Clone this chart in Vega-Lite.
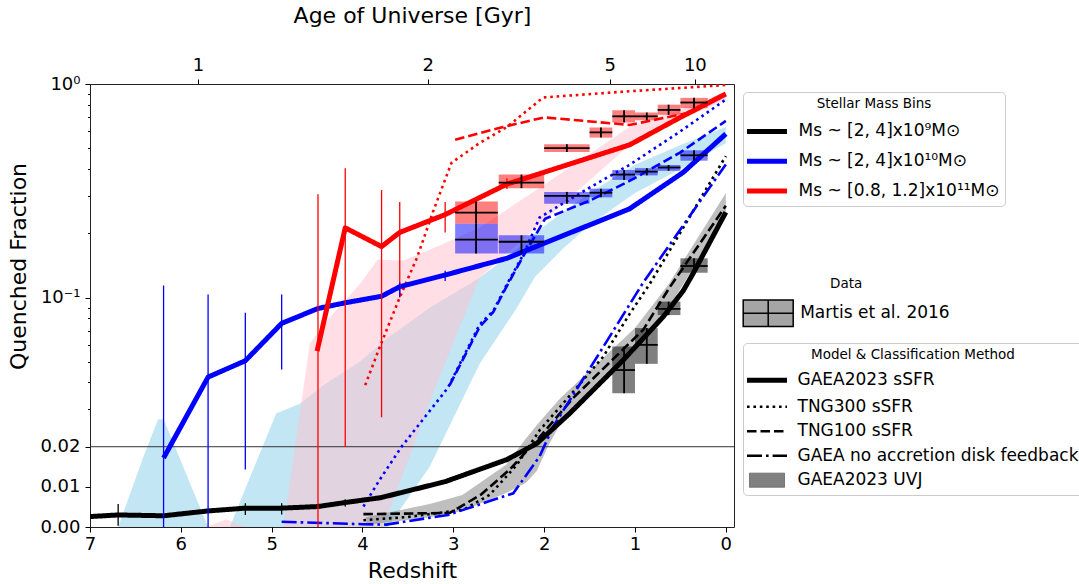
{
  "$schema": "https://vega.github.io/schema/vega-lite/v6.json",
  "width": 644,
  "height": 443,
  "autosize": {"type": "none"},
  "padding": {"left": 90, "top": 84, "right": 345, "bottom": 57},
  "background": "white",
  "config": {
    "font": "DejaVu Sans",
    "view": {"stroke": "#222222", "strokeWidth": 1},
    "axis": {"grid": false, "domain": false, "tickColor": "#000000", "tickWidth": 1, "tickSize": 5, "labelColor": "#000000", "titleColor": "#000000", "labelFontSize": 18, "titleFontSize": 22, "titleFontWeight": "normal", "labelFlush": false, "labelOverlap": false},
    "legend": {"labelColor": "#000000", "titleColor": "#000000", "titleFontWeight": "normal", "labelFontSize": 17, "titleFontSize": 13.5, "labelLimit": 500, "titleLimit": 500}
  },
  "datasets": {
    "bands": [
      {"band": "c", "z": 6.69, "lo": 0, "hi": 0}, {"band": "c", "z": 6.41, "lo": 0, "hi": 0.0176}, {"band": "c", "z": 6.25, "lo": 0, "hi": 0.027}, {"band": "c", "z": 6.19, "lo": 0, "hi": 0.027}, {"band": "c", "z": 5.70, "lo": 0, "hi": 0}, {"band": "c", "z": 5.46, "lo": 0, "hi": 0}, {"band": "c", "z": 5.28, "lo": 0, "hi": 0.0101}, {"band": "c", "z": 4.95, "lo": 0, "hi": 0.0287}, {"band": "c", "z": 4.69, "lo": 0, "hi": 0.032}, {"band": "c", "z": 4.43, "lo": 0, "hi": 0.039}, {"band": "c", "z": 4.03, "lo": 0, "hi": 0.05}, {"band": "c", "z": 3.72, "lo": 0, "hi": 0.065}, {"band": "c", "z": 3.26, "lo": 0.015, "hi": 0.09}, {"band": "c", "z": 2.71, "lo": 0.049, "hi": 0.124}, {"band": "c", "z": 2.3, "lo": 0.09, "hi": 0.17}, {"band": "c", "z": 2.1, "lo": 0.125, "hi": 0.2}, {"band": "c", "z": 1.8, "lo": 0.17, "hi": 0.25}, {"band": "c", "z": 1.5, "lo": 0.22, "hi": 0.31}, {"band": "c", "z": 1.0, "lo": 0.31, "hi": 0.42}, {"band": "c", "z": 0.5, "lo": 0.4, "hi": 0.52}, {"band": "c", "z": 0.0, "lo": 0.53, "hi": 0.63},
      {"band": "p", "z": 5.72, "lo": 0, "hi": 0}, {"band": "p", "z": 5.50, "lo": 0, "hi": 0.0019}, {"band": "p", "z": 5.29, "lo": 0, "hi": 0}, {"band": "p", "z": 4.87, "lo": 0, "hi": 0}, {"band": "p", "z": 4.58, "lo": 0, "hi": 0.061}, {"band": "p", "z": 4.36, "lo": 0, "hi": 0.081}, {"band": "p", "z": 4.03, "lo": 0, "hi": 0.116}, {"band": "p", "z": 3.83, "lo": 0, "hi": 0.151}, {"band": "p", "z": 3.77, "lo": 0, "hi": 0.15}, {"band": "p", "z": 3.55, "lo": 0.0135, "hi": 0.149}, {"band": "p", "z": 3.19, "lo": 0.039, "hi": 0.174}, {"band": "p", "z": 2.71, "lo": 0.124, "hi": 0.213}, {"band": "p", "z": 2.05, "lo": 0.221, "hi": 0.33}, {"band": "p", "z": 1.06, "lo": 0.52, "hi": 0.63}, {"band": "p", "z": 0.5, "lo": 0.68, "hi": 0.76}, {"band": "p", "z": 0.0, "lo": 0.85, "hi": 0.93},
      {"band": "g", "z": 3.96, "lo": 0.0005, "hi": 0.0025}, {"band": "g", "z": 3.26, "lo": 0.0024, "hi": 0.0057}, {"band": "g", "z": 2.9, "lo": 0.004, "hi": 0.008}, {"band": "g", "z": 2.42, "lo": 0.0085, "hi": 0.0155}, {"band": "g", "z": 2.2, "lo": 0.011, "hi": 0.022}, {"band": "g", "z": 2.08, "lo": 0.014, "hi": 0.0253}, {"band": "g", "z": 1.96, "lo": 0.02, "hi": 0.029}, {"band": "g", "z": 1.82, "lo": 0.0258, "hi": 0.0342}, {"band": "g", "z": 1.0, "lo": 0.058, "hi": 0.072}, {"band": "g", "z": 0.63, "lo": 0.09, "hi": 0.116}, {"band": "g", "z": 0.0, "lo": 0.242, "hi": 0.31}
    ],
    "ref": [{"ref": 0.02}],
    "lines": [
      {"bin": "k", "model": "GAEA2023 sSFR", "z": 7.0, "v": 0.0026}, {"bin": "k", "model": "GAEA2023 sSFR", "z": 6.69, "v": 0.003}, {"bin": "k", "model": "GAEA2023 sSFR", "z": 6.19, "v": 0.0028}, {"bin": "k", "model": "GAEA2023 sSFR", "z": 5.70, "v": 0.004}, {"bin": "k", "model": "GAEA2023 sSFR", "z": 5.29, "v": 0.0047}, {"bin": "k", "model": "GAEA2023 sSFR", "z": 4.89, "v": 0.0047}, {"bin": "k", "model": "GAEA2023 sSFR", "z": 4.49, "v": 0.0051}, {"bin": "k", "model": "GAEA2023 sSFR", "z": 4.19, "v": 0.0061}, {"bin": "k", "model": "GAEA2023 sSFR", "z": 3.80, "v": 0.0073}, {"bin": "k", "model": "GAEA2023 sSFR", "z": 3.09, "v": 0.0113}, {"bin": "k", "model": "GAEA2023 sSFR", "z": 2.41, "v": 0.0168}, {"bin": "k", "model": "GAEA2023 sSFR", "z": 2.08, "v": 0.0208}, {"bin": "k", "model": "GAEA2023 sSFR", "z": 1.72, "v": 0.0287}, {"bin": "k", "model": "GAEA2023 sSFR", "z": 1.13, "v": 0.051}, {"bin": "k", "model": "GAEA2023 sSFR", "z": 0.69, "v": 0.0813}, {"bin": "k", "model": "GAEA2023 sSFR", "z": 0.47, "v": 0.108}, {"bin": "k", "model": "GAEA2023 sSFR", "z": 0.36, "v": 0.13}, {"bin": "k", "model": "GAEA2023 sSFR", "z": 0.0, "v": 0.251},
      {"bin": "b", "model": "GAEA2023 sSFR", "z": 6.19, "v": 0.0172}, {"bin": "b", "model": "GAEA2023 sSFR", "z": 5.70, "v": 0.0426}, {"bin": "b", "model": "GAEA2023 sSFR", "z": 5.29, "v": 0.0506}, {"bin": "b", "model": "GAEA2023 sSFR", "z": 4.89, "v": 0.0758}, {"bin": "b", "model": "GAEA2023 sSFR", "z": 4.49, "v": 0.0894}, {"bin": "b", "model": "GAEA2023 sSFR", "z": 4.19, "v": 0.0949}, {"bin": "b", "model": "GAEA2023 sSFR", "z": 3.79, "v": 0.1015}, {"bin": "b", "model": "GAEA2023 sSFR", "z": 3.59, "v": 0.113}, {"bin": "b", "model": "GAEA2023 sSFR", "z": 3.09, "v": 0.1277}, {"bin": "b", "model": "GAEA2023 sSFR", "z": 2.41, "v": 0.153}, {"bin": "b", "model": "GAEA2023 sSFR", "z": 1.06, "v": 0.261}, {"bin": "b", "model": "GAEA2023 sSFR", "z": 0.47, "v": 0.387}, {"bin": "b", "model": "GAEA2023 sSFR", "z": 0.0, "v": 0.585},
      {"bin": "r", "model": "GAEA2023 sSFR", "z": 4.50, "v": 0.0563}, {"bin": "r", "model": "GAEA2023 sSFR", "z": 4.19, "v": 0.213}, {"bin": "r", "model": "GAEA2023 sSFR", "z": 3.79, "v": 0.175}, {"bin": "r", "model": "GAEA2023 sSFR", "z": 3.59, "v": 0.202}, {"bin": "r", "model": "GAEA2023 sSFR", "z": 3.09, "v": 0.245}, {"bin": "r", "model": "GAEA2023 sSFR", "z": 2.41, "v": 0.343}, {"bin": "r", "model": "GAEA2023 sSFR", "z": 1.06, "v": 0.52}, {"bin": "r", "model": "GAEA2023 sSFR", "z": 0.51, "v": 0.695}, {"bin": "r", "model": "GAEA2023 sSFR", "z": 0.0, "v": 0.904},
      {"bin": "r", "model": "TNG300 sSFR", "z": 3.97, "v": 0.039}, {"bin": "r", "model": "TNG300 sSFR", "z": 3.81, "v": 0.0587}, {"bin": "r", "model": "TNG300 sSFR", "z": 3.59, "v": 0.1}, {"bin": "r", "model": "TNG300 sSFR", "z": 3.40, "v": 0.154}, {"bin": "r", "model": "TNG300 sSFR", "z": 3.22, "v": 0.255}, {"bin": "r", "model": "TNG300 sSFR", "z": 3.02, "v": 0.43}, {"bin": "r", "model": "TNG300 sSFR", "z": 2.89, "v": 0.47}, {"bin": "r", "model": "TNG300 sSFR", "z": 2.73, "v": 0.524}, {"bin": "r", "model": "TNG300 sSFR", "z": 2.41, "v": 0.631}, {"bin": "r", "model": "TNG300 sSFR", "z": 2.01, "v": 0.87}, {"bin": "r", "model": "TNG300 sSFR", "z": 1.06, "v": 0.93}, {"bin": "r", "model": "TNG300 sSFR", "z": 0.0, "v": 0.99},
      {"bin": "r", "model": "TNG100 sSFR", "z": 2.98, "v": 0.551}, {"bin": "r", "model": "TNG100 sSFR", "z": 2.45, "v": 0.631}, {"bin": "r", "model": "TNG100 sSFR", "z": 2.0, "v": 0.698}, {"bin": "r", "model": "TNG100 sSFR", "z": 1.06, "v": 0.645}, {"bin": "r", "model": "TNG100 sSFR", "z": 0.36, "v": 0.742}, {"bin": "r", "model": "TNG100 sSFR", "z": 0.0, "v": 0.904},
      {"bin": "b", "model": "TNG300 sSFR", "z": 3.99, "v": 0.0051}, {"bin": "b", "model": "TNG300 sSFR", "z": 3.81, "v": 0.0118}, {"bin": "b", "model": "TNG300 sSFR", "z": 3.57, "v": 0.02}, {"bin": "b", "model": "TNG300 sSFR", "z": 3.06, "v": 0.038}, {"bin": "b", "model": "TNG300 sSFR", "z": 2.71, "v": 0.075}, {"bin": "b", "model": "TNG300 sSFR", "z": 2.56, "v": 0.087}, {"bin": "b", "model": "TNG300 sSFR", "z": 2.41, "v": 0.116}, {"bin": "b", "model": "TNG300 sSFR", "z": 2.23, "v": 0.16}, {"bin": "b", "model": "TNG300 sSFR", "z": 2.05, "v": 0.238}, {"bin": "b", "model": "TNG300 sSFR", "z": 1.5, "v": 0.33}, {"bin": "b", "model": "TNG300 sSFR", "z": 1.06, "v": 0.42}, {"bin": "b", "model": "TNG300 sSFR", "z": 0.5, "v": 0.6}, {"bin": "b", "model": "TNG300 sSFR", "z": 0.0, "v": 0.85},
      {"bin": "b", "model": "TNG100 sSFR", "z": 3.04, "v": 0.039}, {"bin": "b", "model": "TNG100 sSFR", "z": 2.71, "v": 0.073}, {"bin": "b", "model": "TNG100 sSFR", "z": 2.56, "v": 0.086}, {"bin": "b", "model": "TNG100 sSFR", "z": 2.41, "v": 0.114}, {"bin": "b", "model": "TNG100 sSFR", "z": 2.23, "v": 0.157}, {"bin": "b", "model": "TNG100 sSFR", "z": 1.99, "v": 0.235}, {"bin": "b", "model": "TNG100 sSFR", "z": 1.5, "v": 0.285}, {"bin": "b", "model": "TNG100 sSFR", "z": 1.06, "v": 0.355}, {"bin": "b", "model": "TNG100 sSFR", "z": 0.5, "v": 0.48}, {"bin": "b", "model": "TNG100 sSFR", "z": 0.0, "v": 0.673},
      {"bin": "k", "model": "TNG300 sSFR", "z": 3.99, "v": 0.0017}, {"bin": "k", "model": "TNG300 sSFR", "z": 3.5, "v": 0.0025}, {"bin": "k", "model": "TNG300 sSFR", "z": 2.89, "v": 0.0043}, {"bin": "k", "model": "TNG300 sSFR", "z": 2.6, "v": 0.008}, {"bin": "k", "model": "TNG300 sSFR", "z": 2.3, "v": 0.0155}, {"bin": "k", "model": "TNG300 sSFR", "z": 2.05, "v": 0.024}, {"bin": "k", "model": "TNG300 sSFR", "z": 1.82, "v": 0.031}, {"bin": "k", "model": "TNG300 sSFR", "z": 1.35, "v": 0.053}, {"bin": "k", "model": "TNG300 sSFR", "z": 1.06, "v": 0.084}, {"bin": "k", "model": "TNG300 sSFR", "z": 0.84, "v": 0.116}, {"bin": "k", "model": "TNG300 sSFR", "z": 0.0, "v": 0.462},
      {"bin": "k", "model": "TNG100 sSFR", "z": 3.99, "v": 0.0032}, {"bin": "k", "model": "TNG100 sSFR", "z": 3.04, "v": 0.0035}, {"bin": "k", "model": "TNG100 sSFR", "z": 2.7, "v": 0.008}, {"bin": "k", "model": "TNG100 sSFR", "z": 2.38, "v": 0.0143}, {"bin": "k", "model": "TNG100 sSFR", "z": 2.05, "v": 0.0223}, {"bin": "k", "model": "TNG100 sSFR", "z": 1.68, "v": 0.0342}, {"bin": "k", "model": "TNG100 sSFR", "z": 0.91, "v": 0.0706}, {"bin": "k", "model": "TNG100 sSFR", "z": 0.62, "v": 0.112}, {"bin": "k", "model": "TNG100 sSFR", "z": 0.0, "v": 0.27},
      {"bin": "b", "model": "GAEA no accretion disk feedback", "z": 4.89, "v": 0.0013}, {"bin": "b", "model": "GAEA no accretion disk feedback", "z": 3.99, "v": 0.0007}, {"bin": "b", "model": "GAEA no accretion disk feedback", "z": 3.74, "v": 0.0006}, {"bin": "b", "model": "GAEA no accretion disk feedback", "z": 3.06, "v": 0.003}, {"bin": "b", "model": "GAEA no accretion disk feedback", "z": 2.34, "v": 0.0084}, {"bin": "b", "model": "GAEA no accretion disk feedback", "z": 2.05, "v": 0.0176}, {"bin": "b", "model": "GAEA no accretion disk feedback", "z": 1.90, "v": 0.0249}, {"bin": "b", "model": "GAEA no accretion disk feedback", "z": 1.42, "v": 0.0527}, {"bin": "b", "model": "GAEA no accretion disk feedback", "z": 0.91, "v": 0.118}, {"bin": "b", "model": "GAEA no accretion disk feedback", "z": 0.0, "v": 0.422}
    ],
    "err": [
      {"bin": "r", "z": 4.49, "lo": 0, "hi": 0.305}, {"bin": "r", "z": 4.19, "lo": 0.02, "hi": 0.403}, {"bin": "r", "z": 3.79, "lo": 0.0276, "hi": 0.321}, {"bin": "r", "z": 3.59, "lo": 0.1, "hi": 0.281}, {"bin": "r", "z": 3.09, "lo": 0.202, "hi": 0.281}, {"bin": "r", "z": 2.41, "lo": 0.325, "hi": 0.365},
      {"bin": "b", "z": 6.19, "lo": 0, "hi": 0.1145}, {"bin": "b", "z": 5.70, "lo": 0, "hi": 0.1035}, {"bin": "b", "z": 5.29, "lo": 0.0143, "hi": 0.0853}, {"bin": "b", "z": 4.89, "lo": 0.0463, "hi": 0.1035}, {"bin": "b", "z": 3.59, "lo": 0.1005, "hi": 0.118}, {"bin": "b", "z": 3.09, "lo": 0.12, "hi": 0.134},
      {"bin": "k", "z": 6.69, "lo": 0.0003, "hi": 0.0057}, {"bin": "k", "z": 5.29, "lo": 0.003, "hi": 0.0059}, {"bin": "k", "z": 4.89, "lo": 0.0031, "hi": 0.0059}, {"bin": "k", "z": 4.19, "lo": 0.0051, "hi": 0.0069}
    ],
    "martis": [
      {"bin": "r", "src": "Martis et al. 2016", "z1": 2.98, "z2": 2.51, "zc": 2.75, "lo": 0.223, "hi": 0.283, "v": 0.25},
      {"bin": "r", "src": "Martis et al. 2016", "z1": 2.5, "z2": 2.0, "zc": 2.25, "lo": 0.328, "hi": 0.379, "v": 0.349},
      {"bin": "r", "src": "Martis et al. 2016", "z1": 2.0, "z2": 1.5, "zc": 1.75, "lo": 0.482, "hi": 0.524, "v": 0.501},
      {"bin": "r", "src": "Martis et al. 2016", "z1": 1.5, "z2": 1.25, "zc": 1.375, "lo": 0.563, "hi": 0.627, "v": 0.594},
      {"bin": "r", "src": "Martis et al. 2016", "z1": 1.25, "z2": 1.0, "zc": 1.12, "lo": 0.662, "hi": 0.755, "v": 0.706},
      {"bin": "r", "src": "Martis et al. 2016", "z1": 1.0, "z2": 0.75, "zc": 0.87, "lo": 0.678, "hi": 0.737, "v": 0.706},
      {"bin": "r", "src": "Martis et al. 2016", "z1": 0.75, "z2": 0.5, "zc": 0.63, "lo": 0.718, "hi": 0.8, "v": 0.758},
      {"bin": "r", "src": "Martis et al. 2016", "z1": 0.5, "z2": 0.2, "zc": 0.35, "lo": 0.772, "hi": 0.866, "v": 0.821},
      {"bin": "b", "src": "Martis et al. 2016", "z1": 2.98, "z2": 2.51, "zc": 2.75, "lo": 0.162, "hi": 0.223, "v": 0.188},
      {"bin": "b", "src": "Martis et al. 2016", "z1": 2.5, "z2": 2.0, "zc": 2.25, "lo": 0.162, "hi": 0.196, "v": 0.184},
      {"bin": "b", "src": "Martis et al. 2016", "z1": 2.0, "z2": 1.5, "zc": 1.75, "lo": 0.276, "hi": 0.314, "v": 0.299},
      {"bin": "b", "src": "Martis et al. 2016", "z1": 1.5, "z2": 1.25, "zc": 1.375, "lo": 0.295, "hi": 0.326, "v": 0.311},
      {"bin": "b", "src": "Martis et al. 2016", "z1": 1.25, "z2": 1.0, "zc": 1.12, "lo": 0.359, "hi": 0.396, "v": 0.379},
      {"bin": "b", "src": "Martis et al. 2016", "z1": 1.0, "z2": 0.75, "zc": 0.87, "lo": 0.376, "hi": 0.404, "v": 0.39},
      {"bin": "b", "src": "Martis et al. 2016", "z1": 0.75, "z2": 0.5, "zc": 0.63, "lo": 0.393, "hi": 0.419, "v": 0.407},
      {"bin": "b", "src": "Martis et al. 2016", "z1": 0.5, "z2": 0.2, "zc": 0.35, "lo": 0.44, "hi": 0.49, "v": 0.466},
      {"bin": "k", "src": "Martis et al. 2016", "z1": 1.25, "z2": 1.0, "zc": 1.12, "lo": 0.036, "hi": 0.059, "v": 0.046},
      {"bin": "k", "src": "Martis et al. 2016", "z1": 1.0, "z2": 0.75, "zc": 0.87, "lo": 0.049, "hi": 0.072, "v": 0.06},
      {"bin": "k", "src": "Martis et al. 2016", "z1": 0.75, "z2": 0.5, "zc": 0.63, "lo": 0.083, "hi": 0.096, "v": 0.089},
      {"bin": "k", "src": "Martis et al. 2016", "z1": 0.5, "z2": 0.2, "zc": 0.35, "lo": 0.131, "hi": 0.153, "v": 0.141}
    ]
  },
  "resolve": {"axis": {"x": "independent", "y": "independent"}},
  "layer": [
    {
      "data": {"name": "bands"},
      "transform": [{"filter": "datum.band === 'c'"}],
      "mark": {"type": "area", "color": "skyblue", "opacity": 0.5, "clip": true},
      "encoding": {
        "x": {"field": "z", "type": "quantitative", "scale": {"domain": [7, -0.09], "nice": false, "zero": false},
          "axis": {"orient": "top", "title": "Age of Universe [Gyr]", "values": [5.811, 3.283, 1.277, 0.341], "labelExpr": "datum.value > 5 ? '1' : datum.value > 3 ? '2' : datum.value > 1 ? '5' : '10'", "labelPadding": 5, "titlePadding": 29}},
        "y": {"field": "hi", "type": "quantitative", "scale": {"domain": [0, 0.02, 0.025, 0.03, 0.04, 0.05, 0.06, 0.07, 0.08, 0.1, 0.125, 0.15, 0.2, 0.25, 0.3, 0.4, 0.5, 0.6, 0.7, 0.8, 1], "range": [443, 362.73, 342.04, 325.14, 298.46, 277.77, 260.86, 246.57, 234.19, 213.5, 192.81, 175.9, 149.23, 128.54, 111.63, 84.96, 64.27, 47.36, 33.07, 20.69, 0], "nice": false, "zero": false},
          "axis": {"orient": "left", "title": "Quenched Fraction", "values": [0, 0.01, 0.02, 0.03, 0.04, 0.05, 0.06, 0.07, 0.08, 0.09, 0.1, 0.2, 0.3, 0.4, 0.5, 0.6, 0.7, 0.8, 0.9, 1],
            "labelExpr": "datum.value === 0 ? '0.00' : datum.value === 0.01 ? '0.01' : datum.value === 0.02 ? '0.02' : datum.value === 0.1 ? '10⁻¹' : datum.value === 1 ? '10⁰' : ''",
            "tickSize": {"condition": {"test": "indexof([0, 0.01, 0.02, 0.1, 1], datum.value) >= 0", "value": 5}, "value": 2.5},
            "labelPadding": 5, "titleX": -64.5, "titleY": 182, "titleBaseline": "alphabetic", "titleAlign": "center"}},
        "y2": {"field": "lo"}
      }
    },
    {
      "data": {"name": "bands"},
      "transform": [{"filter": "datum.band === 'p'"}],
      "mark": {"type": "area", "color": "pink", "opacity": 0.5, "clip": true},
      "encoding": {
        "x": {"field": "z", "type": "quantitative", "scale": {"domain": [7, -0.09], "nice": false, "zero": false}, "axis": null},
        "y": {"field": "hi", "type": "quantitative", "scale": {"domain": [0, 0.02, 0.025, 0.03, 0.04, 0.05, 0.06, 0.07, 0.08, 0.1, 0.125, 0.15, 0.2, 0.25, 0.3, 0.4, 0.5, 0.6, 0.7, 0.8, 1], "range": [443, 362.73, 342.04, 325.14, 298.46, 277.77, 260.86, 246.57, 234.19, 213.5, 192.81, 175.9, 149.23, 128.54, 111.63, 84.96, 64.27, 47.36, 33.07, 20.69, 0], "nice": false, "zero": false}, "axis": null},
        "y2": {"field": "lo"}
      }
    },
    {
      "data": {"name": "bands"},
      "transform": [{"filter": "datum.band === 'g'"}],
      "mark": {"type": "area", "color": "gray", "opacity": 0.5, "clip": true},
      "encoding": {
        "x": {"field": "z", "type": "quantitative", "scale": {"domain": [7, -0.09], "nice": false, "zero": false}, "axis": null},
        "y": {"field": "hi", "type": "quantitative", "scale": {"domain": [0, 0.02, 0.025, 0.03, 0.04, 0.05, 0.06, 0.07, 0.08, 0.1, 0.125, 0.15, 0.2, 0.25, 0.3, 0.4, 0.5, 0.6, 0.7, 0.8, 1], "range": [443, 362.73, 342.04, 325.14, 298.46, 277.77, 260.86, 246.57, 234.19, 213.5, 192.81, 175.9, 149.23, 128.54, 111.63, 84.96, 64.27, 47.36, 33.07, 20.69, 0], "nice": false, "zero": false}, "axis": null},
        "y2": {"field": "lo"}
      }
    },
    {
      "data": {"name": "ref"},
      "mark": {"type": "rule", "color": "#333333", "strokeWidth": 1},
      "encoding": {
        "y": {"field": "ref", "type": "quantitative", "scale": {"domain": [0, 0.02, 0.025, 0.03, 0.04, 0.05, 0.06, 0.07, 0.08, 0.1, 0.125, 0.15, 0.2, 0.25, 0.3, 0.4, 0.5, 0.6, 0.7, 0.8, 1], "range": [443, 362.73, 342.04, 325.14, 298.46, 277.77, 260.86, 246.57, 234.19, 213.5, 192.81, 175.9, 149.23, 128.54, 111.63, 84.96, 64.27, 47.36, 33.07, 20.69, 0], "nice": false, "zero": false}, "axis": null}
      }
    },
    {
      "data": {"name": "lines"},
      "transform": [{"filter": "datum.model !== 'GAEA2023 sSFR'"}],
      "mark": {"type": "line", "strokeWidth": 2.6, "clip": true},
      "encoding": {
        "x": {"field": "z", "type": "quantitative", "scale": {"domain": [7, -0.09], "nice": false, "zero": false}, "axis": null},
        "y": {"field": "v", "type": "quantitative", "scale": {"domain": [0, 0.02, 0.025, 0.03, 0.04, 0.05, 0.06, 0.07, 0.08, 0.1, 0.125, 0.15, 0.2, 0.25, 0.3, 0.4, 0.5, 0.6, 0.7, 0.8, 1], "range": [443, 362.73, 342.04, 325.14, 298.46, 277.77, 260.86, 246.57, 234.19, 213.5, 192.81, 175.9, 149.23, 128.54, 111.63, 84.96, 64.27, 47.36, 33.07, 20.69, 0], "nice": false, "zero": false}, "axis": null},
        "color": {"field": "bin", "type": "nominal", "scale": {"domain": ["k", "b", "r"], "range": ["#000000", "#0000ff", "#ff0000"]},
          "legend": {"title": "Stellar Mass Bins", "orient": "none", "legendX": 653, "legendY": 8, "symbolType": "M-3.333,0H3.333", "symbolSize": 144, "symbolStrokeWidth": 5, "symbolOpacity": 1,
            "labelExpr": "datum.value === 'k' ? 'Ms ~ [2, 4]x10⁹M⊙' : datum.value === 'b' ? 'Ms ~ [2, 4]x10¹⁰M⊙' : 'Ms ~ [0.8, 1.2]x10¹¹M⊙'",
            "titleAnchor": "middle", "padding": 5, "titlePadding": 12.4, "rowPadding": 8.8, "symbolOffset": 10.5, "labelOffset": 23,
            "fillColor": "white", "strokeColor": "#cccccc", "cornerRadius": 4}},
        "strokeDash": {"field": "model", "type": "nominal", "scale": {"domain": ["GAEA2023 sSFR", "TNG300 sSFR", "TNG100 sSFR", "GAEA no accretion disk feedback", "GAEA2023 UVJ"], "range": [[1, 0], [2.6, 3.8], [9.5, 4], [15, 4, 2.6, 4], [1, 0]]},
          "legend": {"title": "Model & Classification Method", "orient": "none", "legendX": 653, "legendY": 259, "symbolType": "M-3.333,0H3.333", "symbolSize": 144, "symbolStrokeColor": "#000000", "symbolStrokeWidth": 2.5, "symbolOpacity": 1,
            "titleAnchor": "middle", "padding": 5, "titlePadding": 10.2, "rowPadding": 6.5, "symbolOffset": 10.5, "labelOffset": 22,
            "fillColor": "white", "strokeColor": "#cccccc", "cornerRadius": 4,
            "encode": {"symbols": {"update": {
              "shape": {"signal": "datum.value === 'GAEA2023 UVJ' ? 'M-2.917,-1.167H2.917V1.167H-2.917Z' : 'M-3.333,0H3.333'"},
              "fill": {"signal": "datum.value === 'GAEA2023 UVJ' ? '#808080' : 'transparent'"},
              "stroke": {"signal": "datum.value === 'GAEA2023 UVJ' ? '#6a6a6a' : '#000000'"},
              "strokeWidth": {"signal": "datum.value === 'GAEA2023 sSFR' ? 5 : datum.value === 'GAEA2023 UVJ' ? 1 : 2.5"}}}}}}
      }
    },
    {
      "data": {"name": "lines"},
      "transform": [{"filter": "datum.model === 'GAEA2023 sSFR'"}],
      "mark": {"type": "line", "strokeWidth": 5, "clip": true, "strokeJoin": "round"},
      "encoding": {
        "x": {"field": "z", "type": "quantitative", "scale": {"domain": [7, -0.09], "nice": false, "zero": false},
          "axis": {"orient": "bottom", "title": "Redshift", "values": [7, 6, 5, 4, 3, 2, 1, 0], "format": "d", "labelPadding": 3, "titlePadding": 7}},
        "y": {"field": "v", "type": "quantitative", "scale": {"domain": [0, 0.02, 0.025, 0.03, 0.04, 0.05, 0.06, 0.07, 0.08, 0.1, 0.125, 0.15, 0.2, 0.25, 0.3, 0.4, 0.5, 0.6, 0.7, 0.8, 1], "range": [443, 362.73, 342.04, 325.14, 298.46, 277.77, 260.86, 246.57, 234.19, 213.5, 192.81, 175.9, 149.23, 128.54, 111.63, 84.96, 64.27, 47.36, 33.07, 20.69, 0], "nice": false, "zero": false}, "axis": null},
        "color": {"field": "bin", "type": "nominal", "scale": {"domain": ["k", "b", "r"], "range": ["#000000", "#0000ff", "#ff0000"]}, "legend": null},
        "strokeDash": {"field": "model", "type": "nominal", "scale": {"domain": ["GAEA2023 sSFR", "TNG300 sSFR", "TNG100 sSFR", "GAEA no accretion disk feedback", "GAEA2023 UVJ"], "range": [[1, 0], [2.6, 3.8], [9.5, 4], [15, 4, 2.6, 4], [1, 0]]}, "legend": null}
      }
    },
    {
      "data": {"name": "err"},
      "mark": {"type": "rule", "strokeWidth": 1.3, "clip": true},
      "encoding": {
        "x": {"field": "z", "type": "quantitative", "scale": {"domain": [7, -0.09], "nice": false, "zero": false}, "axis": null},
        "y": {"field": "lo", "type": "quantitative", "scale": {"domain": [0, 0.02, 0.025, 0.03, 0.04, 0.05, 0.06, 0.07, 0.08, 0.1, 0.125, 0.15, 0.2, 0.25, 0.3, 0.4, 0.5, 0.6, 0.7, 0.8, 1], "range": [443, 362.73, 342.04, 325.14, 298.46, 277.77, 260.86, 246.57, 234.19, 213.5, 192.81, 175.9, 149.23, 128.54, 111.63, 84.96, 64.27, 47.36, 33.07, 20.69, 0], "nice": false, "zero": false}, "axis": null},
        "y2": {"field": "hi"},
        "color": {"field": "bin", "type": "nominal", "scale": {"domain": ["k", "b", "r"], "range": ["#000000", "#0000ff", "#ff0000"]}, "legend": null}
      }
    },
    {
      "data": {"name": "martis"},
      "mark": {"type": "rect", "opacity": 0.5, "clip": true},
      "encoding": {
        "x": {"field": "z1", "type": "quantitative", "scale": {"domain": [7, -0.09], "nice": false, "zero": false}, "axis": null},
        "x2": {"field": "z2"},
        "y": {"field": "lo", "type": "quantitative", "scale": {"domain": [0, 0.02, 0.025, 0.03, 0.04, 0.05, 0.06, 0.07, 0.08, 0.1, 0.125, 0.15, 0.2, 0.25, 0.3, 0.4, 0.5, 0.6, 0.7, 0.8, 1], "range": [443, 362.73, 342.04, 325.14, 298.46, 277.77, 260.86, 246.57, 234.19, 213.5, 192.81, 175.9, 149.23, 128.54, 111.63, 84.96, 64.27, 47.36, 33.07, 20.69, 0], "nice": false, "zero": false}, "axis": null},
        "y2": {"field": "hi"},
        "color": {"field": "bin", "type": "nominal", "scale": {"domain": ["k", "b", "r"], "range": ["#000000", "#0000ff", "#ff0000"]}, "legend": null}
      }
    },
    {
      "data": {"name": "martis"},
      "mark": {"type": "rule", "color": "#000000", "strokeWidth": 1.8, "clip": true},
      "encoding": {
        "x": {"field": "z1", "type": "quantitative", "scale": {"domain": [7, -0.09], "nice": false, "zero": false}, "axis": null},
        "x2": {"field": "z2"},
        "y": {"field": "v", "type": "quantitative", "scale": {"domain": [0, 0.02, 0.025, 0.03, 0.04, 0.05, 0.06, 0.07, 0.08, 0.1, 0.125, 0.15, 0.2, 0.25, 0.3, 0.4, 0.5, 0.6, 0.7, 0.8, 1], "range": [443, 362.73, 342.04, 325.14, 298.46, 277.77, 260.86, 246.57, 234.19, 213.5, 192.81, 175.9, 149.23, 128.54, 111.63, 84.96, 64.27, 47.36, 33.07, 20.69, 0], "nice": false, "zero": false}, "axis": null}
      }
    },
    {
      "data": {"name": "martis"},
      "mark": {"type": "rule", "color": "#000000", "strokeWidth": 1.8, "clip": true},
      "encoding": {
        "x": {"field": "zc", "type": "quantitative", "scale": {"domain": [7, -0.09], "nice": false, "zero": false}, "axis": null},
        "y": {"field": "lo", "type": "quantitative", "scale": {"domain": [0, 0.02, 0.025, 0.03, 0.04, 0.05, 0.06, 0.07, 0.08, 0.1, 0.125, 0.15, 0.2, 0.25, 0.3, 0.4, 0.5, 0.6, 0.7, 0.8, 1], "range": [443, 362.73, 342.04, 325.14, 298.46, 277.77, 260.86, 246.57, 234.19, 213.5, 192.81, 175.9, 149.23, 128.54, 111.63, 84.96, 64.27, 47.36, 33.07, 20.69, 0], "nice": false, "zero": false}, "axis": null},
        "y2": {"field": "hi"}
      }
    },
    {
      "data": {"name": "martis"},
      "mark": {"type": "point", "size": 0, "filled": true, "fill": "#a5a5a5", "stroke": "#000000", "strokeWidth": 1},
      "encoding": {
        "x": {"field": "zc", "type": "quantitative", "scale": {"domain": [7, -0.09], "nice": false, "zero": false}, "axis": null},
        "y": {"field": "v", "type": "quantitative", "scale": {"domain": [0, 0.02, 0.025, 0.03, 0.04, 0.05, 0.06, 0.07, 0.08, 0.1, 0.125, 0.15, 0.2, 0.25, 0.3, 0.4, 0.5, 0.6, 0.7, 0.8, 1], "range": [443, 362.73, 342.04, 325.14, 298.46, 277.77, 260.86, 246.57, 234.19, 213.5, 192.81, 175.9, 149.23, 128.54, 111.63, 84.96, 64.27, 47.36, 33.07, 20.69, 0], "nice": false, "zero": false}, "axis": null},
        "shape": {"field": "src", "type": "nominal", "scale": {"domain": ["Martis et al. 2016"], "range": ["M-1,-0.53H1V0.53H-1Z M-1,0H1 M0,-0.53V0.53"]},
          "legend": {"title": "Data", "orient": "none", "legendX": 652.2, "legendY": 192.5, "symbolSize": 2500, "symbolOpacity": 1, "padding": 0, "titlePadding": -2.8, "labelOffset": 6, "titleAnchor": "middle"}}
      }
    }
  ]
}
